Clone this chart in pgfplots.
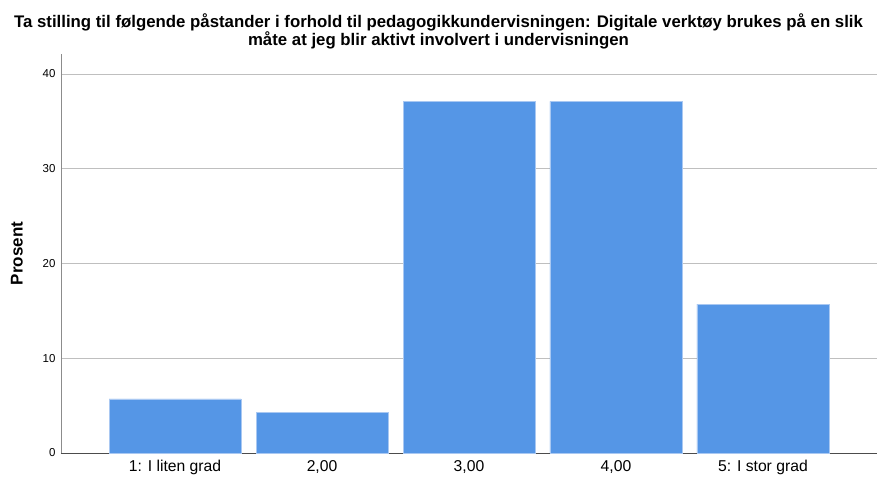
\documentclass[border=0pt]{standalone}
\usepackage{fontspec}
\setmainfont{Liberation Sans}
\setsansfont{Liberation Sans}
\usepackage{pgfplots}
\pgfplotsset{compat=1.18}
\definecolor{barblue}{HTML}{5596E6}
\definecolor{baredge}{HTML}{A9C8F2}
\begin{document}
\begin{tikzpicture}
\begin{axis}[
    scale only axis,
    width=816pt, height=399pt,
    xmin=0.224, xmax=5.776,
    ymin=0, ymax=42.1,
    axis x line*=bottom, axis y line*=left,
    x axis line style={-, draw=black!70, line width=0.8pt},
    y axis line style={-, draw=black!45, line width=0.8pt},
    xtick={1,2,3,4,5},
    xticklabels={1: I liten grad, 2{,}00, 3{,}00, 4{,}00, 5: I stor grad},
    ytick={0,10,20,30,40},
    major tick length=0pt,
    ymajorgrids=true,
    grid style={black!25, line width=0.7pt},
    /pgf/number format/assume math mode=true,
    x tick label style={font=\fontsize{15.7}{17}\selectfont, yshift=-4pt},
    y tick label style={font=\fontsize{11.5}{13}\selectfont, xshift=-2pt},
    every axis y label/.style={at={(axis description cs:-0.0540,0.5)}, rotate=90, anchor=center},
    ylabel={\bfseries\fontsize{17}{19}\selectfont Prosent},
    clip=false,
]
\addplot[ybar, bar width=0.898, fill=barblue, draw=baredge, line width=0.6pt]
    coordinates {(1,5.7) (2,4.3) (3,37.1) (4,37.1) (5,15.7)};
\end{axis}
\node[align=center, font=\bfseries\fontsize{16.8}{18}\selectfont] at (377.5pt,422pt)
    {Ta stilling til følgende påstander i forhold til pedagogikkundervisningen: Digitale verktøy brukes på en slik\\måte at jeg blir aktivt involvert i undervisningen};
\pgfresetboundingbox
\path[use as bounding box] (-61pt,-24pt) rectangle (816pt,453pt);
\end{tikzpicture}
\end{document}
